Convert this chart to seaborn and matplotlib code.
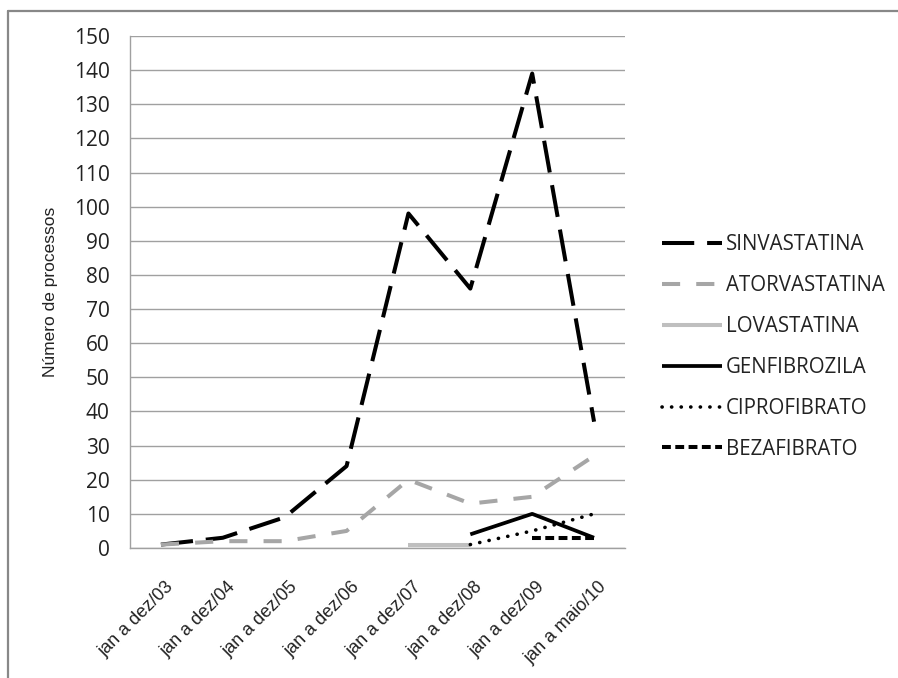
import numpy as np
import pandas as pd
import seaborn as sns
import matplotlib
matplotlib.use("Agg")
import matplotlib.pyplot as plt
import matplotlib.transforms as mtransforms
from matplotlib.lines import Line2D

# Periods on the horizontal axis
periodos = ["jan a dez/03", "jan a dez/04", "jan a dez/05", "jan a dez/06",
            "jan a dez/07", "jan a dez/08", "jan a dez/09", "jan a maio/10"]

# Number of processes per drug (None = no record in that period)
sinvastatina = [1, 3, 9, 24, 98, 76, 139, 37]
atorvastatina = [1, 2, 2, 5, 20, 13, 15, 27]
lovastatina = [None, None, None, None, 1, 1, None, None]
genfibrozila = [None, None, None, None, None, 4, 10, 3]
ciprofibrato = [None, None, None, None, None, 1, 5, 10]
bezafibrato = [None, None, None, None, None, None, 3, 3]

series_names = ["SINVASTATINA", "ATORVASTATINA", "LOVASTATINA",
                "GENFIBROZILA", "CIPROFIBRATO", "BEZAFIBRATO"]
series_values = [sinvastatina, atorvastatina, lovastatina,
                 genfibrozila, ciprofibrato, bezafibrato]

y_ticks = list(range(0, 151, 10))

rows = []
for name, vals in zip(series_names, series_values):
    for i, v in enumerate(vals):
        if v is not None:
            rows.append({"farmaco": name, "pos": i, "periodo": periodos[i], "n": v})
df = pd.DataFrame(rows)

styles = {
    "SINVASTATINA": dict(color="black", lw=2.9, ls=(0, (8, 3.2)), cap="butt"),
    "ATORVASTATINA": dict(color="#a6a6a6", lw=2.9, ls=(0, (4.5, 4.0)), cap="butt"),
    "LOVASTATINA": dict(color="#bfbfbf", lw=2.9, ls="-", cap="butt"),
    "GENFIBROZILA": dict(color="black", lw=2.7, ls="-", cap="butt"),
    "CIPROFIBRATO": dict(color="black", lw=2.6, ls=(0, (0.05, 2.6)), cap="round"),
    "BEZAFIBRATO": dict(color="black", lw=2.9, ls=(0, (2.2, 1.1)), cap="butt"),
}

sns.set_style("white")
W, H = 898, 678
fig = plt.figure(figsize=(W / 100, H / 100), dpi=100)
ax = fig.add_axes([130 / W, 1 - 548 / H, (625 - 130) / W, (548 - 36) / H])

for name in series_names:
    st = styles[name]
    sub = df[df["farmaco"] == name]
    sns.lineplot(data=sub, x="pos", y="n", ax=ax, color=st["color"],
                 linewidth=st["lw"], linestyle=st["ls"],
                 solid_capstyle=st["cap"], dash_capstyle=st["cap"],
                 legend=False, errorbar=None, sort=False)

ax.set_xlim(-0.5, len(periodos) - 0.5)
ax.set_ylim(0, 150)
ax.set_yticks(y_ticks)
ax.set_yticklabels([str(t) for t in y_ticks], fontsize=15, family="Open Sans",
                   color="#222222")
ax.set_xticks(range(len(periodos)))
ax.set_xticklabels(periodos, rotation=45, ha="right", va="top",
                   rotation_mode="anchor", fontsize=13, family="Liberation Sans",
                   color="#222222")
ax.tick_params(axis="both", length=0)
ax.tick_params(axis="y", pad=14.5)
ax.tick_params(axis="x", pad=22)
# nudge the rotated period labels slightly to the right
shift = mtransforms.ScaledTranslation(4 / 100, 0, fig.dpi_scale_trans)
for lbl in ax.get_xticklabels():
    lbl.set_transform(lbl.get_transform() + shift)

ax.grid(axis="y", color="#a0a0a0", lw=1.0)
ax.grid(axis="x", visible=False)
ax.set_axisbelow(True)
for side in ["top", "right"]:
    ax.spines[side].set_visible(False)
for side in ["left", "bottom"]:
    ax.spines[side].set_color("#a0a0a0")
    ax.spines[side].set_linewidth(1.0)

ax.set_xlabel("")
ax.set_ylabel("Número de processos", fontsize=12.5, family="Liberation Sans",
              color="#222222")
ax.yaxis.label.set_verticalalignment("center")
ax.yaxis.set_label_coords((51 - 130) / 495, 0.5)

# Legend built from the same line styles
handles = []
for name in series_names:
    st = styles[name]
    handles.append(Line2D([0], [0], color=st["color"], lw=st["lw"], linestyle=st["ls"],
                          solid_capstyle=st["cap"], dash_capstyle=st["cap"]))
leg = fig.legend(handles, series_names, loc="upper left",
                 bbox_to_anchor=(662 / W, 1 - 234 / H), frameon=False,
                 prop={"family": "Open Sans", "size": 14.8},
                 handlelength=2.9, handletextpad=0.2, labelspacing=0.97,
                 borderpad=0, borderaxespad=0)
for t in leg.get_texts():
    t.set_color("#222222")

# Outer frame of the chart area (top and left edges)
fig.add_artist(Line2D([8 / W, 8 / W], [0, 1 - 11 / H], transform=fig.transFigure,
                      color="#888888", lw=1.6))
fig.add_artist(Line2D([8 / W, 1], [1 - 11 / H, 1 - 11 / H], transform=fig.transFigure,
                      color="#888888", lw=1.6))

fig.savefig("out.png", dpi=100, facecolor="white")
